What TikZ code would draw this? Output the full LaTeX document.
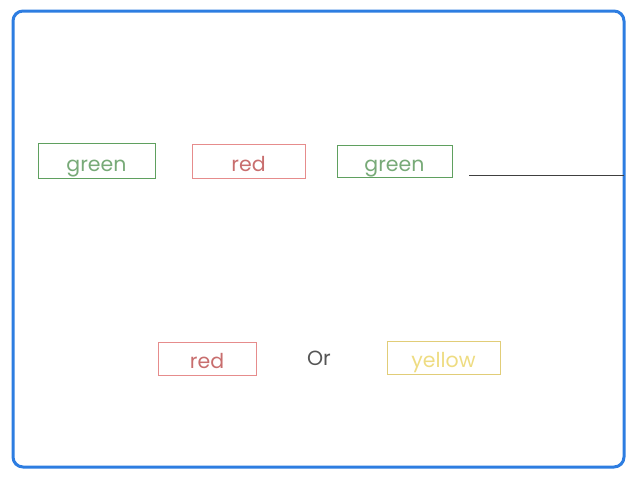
\documentclass[tikz,border=0pt]{standalone}
\usepackage{fontspec}
\setmainfont{Poppins}
\definecolor{bordblue}{RGB}{45,125,225}
\definecolor{gtxt}{RGB}{120,170,120}
\definecolor{gbox}{RGB}{95,160,95}
\definecolor{rtxt}{RGB}{200,110,110}
\definecolor{rbox}{RGB}{230,140,140}
\definecolor{ytxt}{RGB}{238,220,130}
\definecolor{ybox}{RGB}{225,205,120}
\definecolor{ortxt}{RGB}{85,85,85}
\begin{document}
\begin{tikzpicture}[x=1pt,y=-1pt,
  lbox/.style={draw=#1,line width=1pt,inner sep=0pt,text height=22pt,text depth=2pt,font=\fontsize{20.5}{20.5}\selectfont},
  ]
\useasboundingbox (0,0) rectangle (638,479);
\draw[bordblue,line width=3pt,rounded corners=10pt] (13,11) rectangle (624,467);
\node[lbox=gbox,text=gtxt,minimum width=117pt,minimum height=35pt] (g1) at (96.5,161) {green};
\node[lbox=rbox,text=rtxt,minimum width=113pt,minimum height=34pt] (r1) at (248.5,161.5) {red};
\node[lbox=gbox,text=gtxt,minimum width=115pt,minimum height=32pt] (g2) at (394.5,161.5) {green};
\coordinate (ls) at (469,175);
\coordinate (le) at (624,175);
\draw[black!75,line width=1pt] (ls) -- (le);
\node[lbox=rbox,text=rtxt,minimum width=98pt,minimum height=33pt] (r2) at (207,358.5) {red};
\node[lbox=white,draw=none,text=ortxt,anchor=base] (or) at (319,365) {Or};
\node[lbox=ybox,text=ytxt,minimum width=113pt,minimum height=33pt] (y) at (443.5,357.5) {yellow};
\end{tikzpicture}
\end{document}
